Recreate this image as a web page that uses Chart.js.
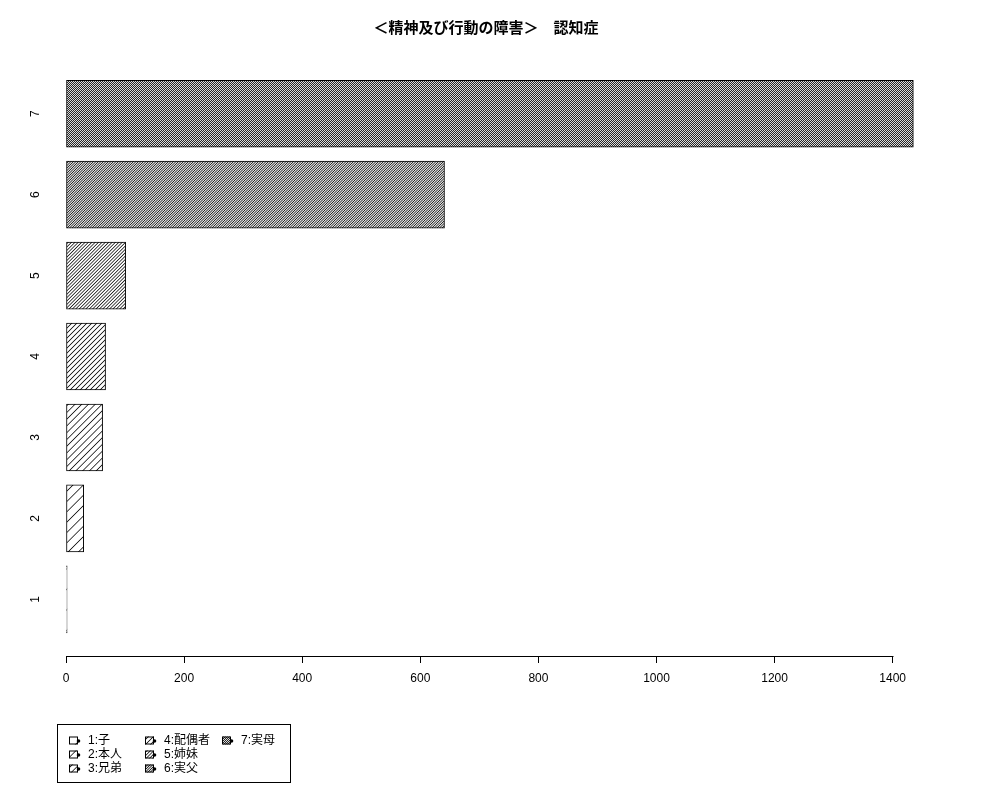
<!DOCTYPE html>
<html>
<head>
<meta charset="utf-8">
<script src="https://cdn.jsdelivr.net/npm/chart.js@4/dist/chart.umd.min.js"></script>
<style>
  html, body { margin: 0; padding: 0; background: #fff; }
  canvas { display: block; }
</style>
</head>
<body>
<canvas id="chart" width="1000" height="800"></canvas>
<script>
const TITLE = "＜精神及び行動の障害＞　認知症";
const categories = [1, 2, 3, 4, 5, 6, 7];
const counts = [2, 30, 62, 67, 101, 641, 1435];
const legendLabels = ["1:子", "2:本人", "3:兄弟", "4:配偶者", "5:姉妹", "6:実父", "7:実母"];
const xTicks = [0, 200, 400, 600, 800, 1000, 1200, 1400];
// hatch density in lines per inch, as R's density= argument
const hatchDensity = [5, 10, 15, 20, 30, 40, 50];

const FONT = "'Liberation Sans', 'Noto Sans CJK JP', sans-serif";
Chart.defaults.font.family = FONT;
Chart.defaults.color = "#000";

const canvas = document.getElementById("chart");
const ctx = canvas.getContext("2d");

// 45 degree "/" hatching, rasterised by hand so the tile repeats cleanly
function hatch(density) {
  const period = (72 * Math.SQRT2) / density;
  const k = Math.max(1, Math.ceil(24 / period));
  const n = Math.round(period * k);
  const p = n / k;
  const tile = document.createElement("canvas");
  tile.width = n;
  tile.height = n;
  const t = tile.getContext("2d");
  const img = t.createImageData(n, n);
  for (let y = 0; y < n; y++) {
    for (let x = 0; x < n; x++) {
      const s = (x + y + 1) % p;
      const f = Math.min(s, p - s);
      const dist = f / Math.SQRT2;
      const cover = Math.max(0, Math.min(1, 0.85 - dist));
      const g = Math.round(255 * (1 - cover));
      const o = (y * n + x) * 4;
      img.data[o] = g;
      img.data[o + 1] = g;
      img.data[o + 2] = g;
      img.data[o + 3] = 255;
    }
  }
  t.putImageData(img, 0, 0);
  return ctx.createPattern(tile, "repeat");
}

const patterns = hatchDensity.map(hatch);

// R style axis line: only from first to last tick
const axisLine = {
  id: "axisLine",
  afterDraw(chart) {
    const x = chart.scales.x;
    const c = chart.ctx;
    const y = Math.round(chart.chartArea.bottom) + 0.5;
    c.save();
    c.strokeStyle = "#000";
    c.lineWidth = 1;
    c.beginPath();
    c.moveTo(Math.round(x.getPixelForValue(xTicks[0])) + 0.5, y);
    c.lineTo(Math.round(x.getPixelForValue(xTicks[xTicks.length - 1])) + 0.5, y);
    c.stroke();
    c.restore();
  },
};

const titlePlugin = {
  id: "rTitle",
  afterDraw(chart) {
    const c = chart.ctx;
    c.save();
    c.font = "bold 15px " + FONT;
    c.fillStyle = "#000";
    c.textAlign = "center";
    c.textBaseline = "middle";
    c.fillText(TITLE, 486, 29);
    c.restore();
  },
};

const legendPlugin = {
  id: "rLegend",
  afterDraw(chart) {
    const c = chart.ctx;
    const colX = [69, 145, 222];
    const rowY = [740.5, 754.5, 768.5];
    c.save();
    c.strokeStyle = "#000";
    c.lineWidth = 1;
    c.strokeRect(57.5, 724.5, 233, 58);
    c.font = "12px " + FONT;
    c.textBaseline = "middle";
    c.textAlign = "left";
    legendLabels.forEach((label, i) => {
      const x = colX[Math.floor(i / 3)];
      const y = rowY[i % 3];
      c.fillStyle = patterns[i];
      c.fillRect(x, y - 4, 9, 8);
      c.strokeRect(x + 0.5, y - 3.5, 8, 7);
      c.fillStyle = "#000";
      c.beginPath();
      c.arc(x + 9.5, y + 0.5, 1.8, 0, Math.PI * 2);
      c.fill();
      c.fillText(label, x + 19, y + 0.5);
    });
    c.restore();
  },
};

new Chart(ctx, {
  type: "bar",
  data: {
    datasets: [
      {
        data: categories.map((cat, i) => ({ x: counts[i], y: cat })),
        backgroundColor: patterns,
        borderColor: "#000",
        borderWidth: 1,
        borderSkipped: false,
        barThickness: 67,
      },
    ],
  },
  options: {
    indexAxis: "y",
    responsive: false,
    animation: false,
    devicePixelRatio: 1,
    layout: { padding: { top: 70, right: 53, left: 0, bottom: 0 } },
    plugins: {
      legend: { display: false },
      title: { display: false },
      tooltip: { enabled: false },
    },
    scales: {
      x: {
        type: "linear",
        min: 0,
        max: 1492,
        afterBuildTicks: (s) => {
          s.ticks = xTicks.map((v) => ({ value: v }));
        },
        afterFit: (s) => {
          s.height = 144;
        },
        grid: { drawOnChartArea: false, tickLength: 7, color: "#000" },
        border: { display: false },
        ticks: {
          font: { size: 12 },
          color: "#000",
          padding: 8,
          maxRotation: 0,
          callback: (v) => String(v),
        },
      },
      y: {
        type: "linear",
        offset: false,
        min: 0.3,
        max: 7.54,
        afterBuildTicks: (s) => {
          s.ticks = categories.map((v) => ({ value: v }));
        },
        afterFit: (s) => {
          s.width = 66;
        },
        grid: { display: false, drawTicks: false, offset: false },
        border: { display: false },
        ticks: {
          font: { size: 12 },
          color: "#000",
          padding: 27,
          crossAlign: "center",
          minRotation: 90,
          maxRotation: 90,
          callback: (v) => String(v),
        },
      },
    },
  },
  plugins: [axisLine, titlePlugin, legendPlugin],
});
</script>
</body>
</html>
